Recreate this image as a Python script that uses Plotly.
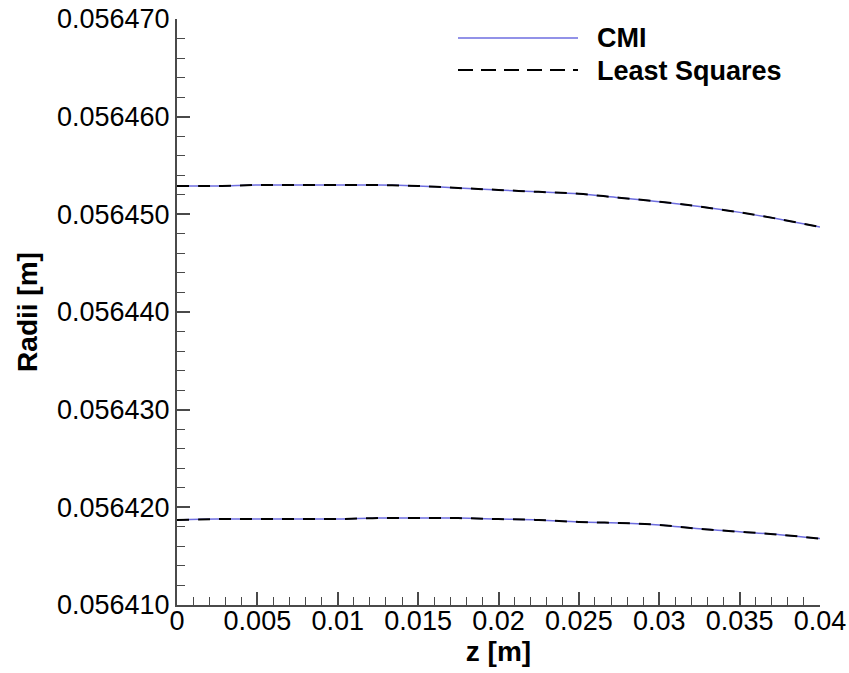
import plotly.graph_objects as go

# Data
z = [0.0, 0.0025, 0.005, 0.0075, 0.01, 0.0125, 0.015, 0.0175, 0.02,
     0.0225, 0.025, 0.0275, 0.03, 0.0325, 0.035, 0.0375, 0.04]
cmi_outer = [0.0564529, 0.0564529, 0.0564530, 0.0564530, 0.0564530, 0.0564530,
             0.0564529, 0.0564527, 0.0564525, 0.0564523, 0.0564521, 0.0564517,
             0.0564513, 0.0564508, 0.0564502, 0.0564495, 0.0564487]
ls_outer = [0.0564529, 0.0564529, 0.0564530, 0.0564530, 0.0564530, 0.0564530,
            0.0564529, 0.0564527, 0.0564525, 0.0564523, 0.0564521, 0.0564517,
            0.0564513, 0.0564508, 0.0564502, 0.0564495, 0.0564487]
cmi_inner = [0.0564187, 0.0564188, 0.0564188, 0.0564188, 0.0564188, 0.0564189,
             0.0564189, 0.0564189, 0.0564188, 0.0564187, 0.0564185, 0.0564184,
             0.0564182, 0.0564178, 0.0564175, 0.0564172, 0.0564168]
ls_inner = [0.0564187, 0.0564188, 0.0564188, 0.0564188, 0.0564188, 0.0564189,
            0.0564189, 0.0564189, 0.0564188, 0.0564187, 0.0564185, 0.0564184,
            0.0564182, 0.0564178, 0.0564175, 0.0564172, 0.0564168]

x_tickvals = [0, 0.005, 0.01, 0.015, 0.02, 0.025, 0.03, 0.035, 0.04]
x_ticktext = ["0", "0.005", "0.01", "0.015", "0.02", "0.025", "0.03", "0.035", "0.04"]
y_tickvals = [0.056410, 0.056420, 0.056430, 0.056440, 0.056450, 0.056460, 0.056470]
y_ticktext = ["0.056410", "0.056420", "0.056430", "0.056440", "0.056450", "0.056460", "0.056470"]
legend_names = ["CMI", "Least Squares"]

BLUE = "#6E6EE0"
AXIS = "#4a4a4a"
FONT = "Liberation Sans, Arial, sans-serif"

fig = go.Figure()
for ys in (cmi_outer, cmi_inner):
    fig.add_trace(go.Scatter(x=z, y=ys, mode="lines", line=dict(color=BLUE, width=1.5),
                             name=legend_names[0], showlegend=False, line_shape="spline"))
for ys in (ls_outer, ls_inner):
    fig.add_trace(go.Scatter(x=z, y=ys, mode="lines",
                             line=dict(color="black", width=2, dash="12px,9px"),
                             name=legend_names[1], showlegend=False, line_shape="spline"))

fig.update_layout(
    width=849, height=673,
    margin=dict(l=177, r=29, t=19, b=68),
    paper_bgcolor="white", plot_bgcolor="white",
    font=dict(family=FONT, color="black", size=27),
    showlegend=False,
    xaxis=dict(
        range=[0, 0.04], tickvals=x_tickvals, ticktext=x_ticktext, automargin=False,
        showgrid=False, zeroline=False, showline=True, linecolor=AXIS, linewidth=2,
        ticks="inside", ticklen=13, tickwidth=1.5, tickcolor=AXIS,
        minor=dict(dtick=0.001, ticks="inside", ticklen=8, tickwidth=1.2, tickcolor=AXIS, showgrid=False),
        tickfont=dict(size=27), ticklabelstandoff=-9,
        title=dict(text="<b>z [m]</b>", font=dict(size=28), standoff=1),
    ),
    yaxis=dict(
        range=[0.056410, 0.056470], tickvals=y_tickvals, ticktext=y_ticktext, automargin=False,
        showgrid=False, zeroline=False, showline=True, linecolor=AXIS, linewidth=2,
        ticks="inside", ticklen=13, tickwidth=1.5, tickcolor=AXIS,
        minor=dict(dtick=0.000002, ticks="inside", ticklen=8, tickwidth=1.2, tickcolor=AXIS, showgrid=False),
        tickfont=dict(size=27),
        title=dict(text="<b>Radii [m]</b>", font=dict(size=28), standoff=11),
    ),
)

# custom legend (long line samples as in the reference)
def px_x(px):
    return (px - 177) / (820 - 177)

def px_y(py):
    return (605 - py) / (605 - 19)

fig.add_shape(type="line", xref="paper", yref="paper",
              x0=px_x(458), x1=px_x(578), y0=px_y(38), y1=px_y(38),
              line=dict(color=BLUE, width=1.5))
fig.add_shape(type="line", xref="paper", yref="paper",
              x0=px_x(458), x1=px_x(578), y0=px_y(70), y1=px_y(70),
              line=dict(color="black", width=2, dash="15px,8px"))
fig.add_annotation(xref="paper", yref="paper", x=px_x(595), y=px_y(38), text="<b>%s</b>" % legend_names[0],
                   showarrow=False, xanchor="left", yanchor="middle", font=dict(size=27))
fig.add_annotation(xref="paper", yref="paper", x=px_x(595), y=px_y(71), text="<b>%s</b>" % legend_names[1],
                   showarrow=False, xanchor="left", yanchor="middle", font=dict(size=27))

fig.write_html("out.html", config={"displayModeBar": False},
               post_script="document.body.style.margin='0';")
